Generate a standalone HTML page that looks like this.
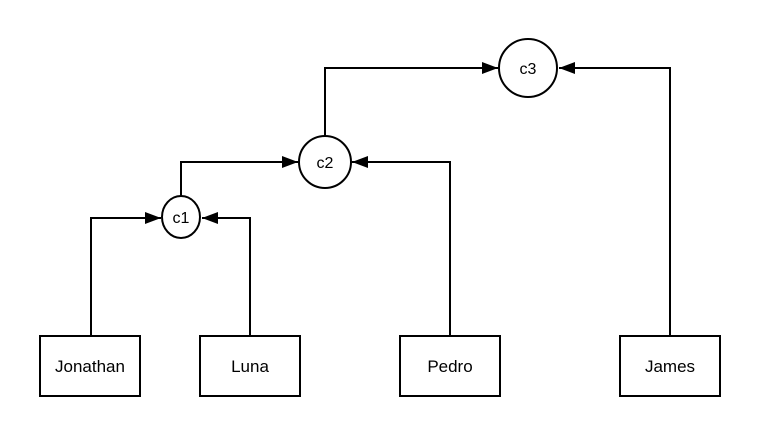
<!DOCTYPE html>
<html><head><style>body{margin:0;background:#fff}</style></head><body>
<svg width="760" height="437" viewBox="0 0 760 437" xmlns="http://www.w3.org/2000/svg" font-family="Liberation Sans, sans-serif" font-size="17">
<defs>
<marker id="b" markerWidth="16" markerHeight="12" refX="16" refY="6" orient="auto" markerUnits="userSpaceOnUse"><path d="M0,0 L16,6 L0,12 z" fill="#000"/></marker></defs>
<g fill="none" stroke="#000" stroke-width="2">
<path d="M91,336 V218 H161" marker-end="url(#b)"/>
<path d="M250,336 V218 H202" marker-end="url(#b)"/>
<path d="M181,196 V162 H298" marker-end="url(#b)"/>
<path d="M450,336 V162 H352" marker-end="url(#b)"/>
<path d="M325,136 V68 H498" marker-end="url(#b)"/>
<path d="M670,336 V68 H559" marker-end="url(#b)"/>
<rect x="40" y="336" width="100" height="60" fill="#fff"/>
<rect x="200" y="336" width="100" height="60" fill="#fff"/>
<rect x="400" y="336" width="100" height="60" fill="#fff"/>
<rect x="620" y="336" width="100" height="60" fill="#fff"/>
<ellipse cx="181" cy="217" rx="19" ry="21" fill="#fff"/>
<circle cx="325" cy="162" r="26" fill="#fff"/>
<circle cx="528" cy="68" r="29" fill="#fff"/>
</g>
<g text-anchor="middle" fill="#000">
<text x="90" y="372">Jonathan</text>
<text x="250" y="372">Luna</text>
<text x="450" y="372">Pedro</text>
<text x="670" y="372">James</text>
<text x="181" y="223" font-size="16">c1</text>
<text x="325" y="168" font-size="16">c2</text>
<text x="528" y="74" font-size="16">c3</text>
</g>
</svg>
</body></html>
